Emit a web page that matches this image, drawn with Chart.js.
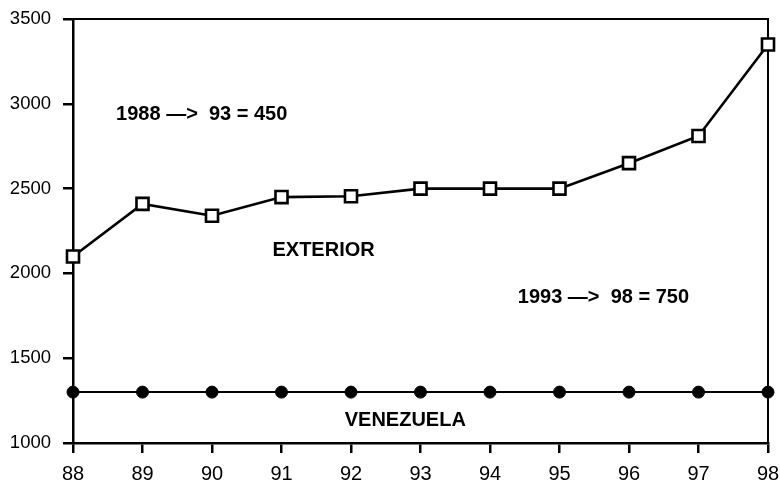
<!DOCTYPE html>
<html>
<head>
<meta charset="utf-8">
<script src="https://cdn.jsdelivr.net/npm/chart.js@4/dist/chart.umd.min.js"></script>
<style>
  html, body { margin: 0; padding: 0; background: #fff; }
  #wrap { width: 780px; height: 487px; position: relative; }
</style>
</head>
<body>
<div id="wrap"><canvas id="c"></canvas></div>
<script>
const years = [88, 89, 90, 91, 92, 93, 94, 95, 96, 97, 98];
const exterior = [2100, 2410, 2340, 2450, 2455, 2500, 2500, 2500, 2650, 2810, 3350];
const venezuela = [1300, 1300, 1300, 1300, 1300, 1300, 1300, 1300, 1300, 1300, 1300];
const yTickValues = [1000, 1500, 2000, 2500, 3000, 3500];
const notes = ['1988 —>  93 = 450', 'EXTERIOR', '1993 —>  98 = 750', 'VENEZUELA'];

const toXY = (vals) => years.map((y, i) => ({ x: y, y: vals[i] }));

const notePlugin = {
  id: 'notes',
  afterDatasetsDraw(chart) {
    const { ctx, scales: { x, y } } = chart;
    const spots = [[88.62, 2936], [90.87, 2136], [94.40, 1860], [91.91, 1133]];
    ctx.save();
    ctx.fillStyle = '#000';
    ctx.font = 'bold 20px "Liberation Sans", Arial, sans-serif';
    ctx.textAlign = 'left';
    ctx.textBaseline = 'middle';
    notes.forEach((t, i) => {
      ctx.fillText(t, x.getPixelForValue(spots[i][0]), y.getPixelForValue(spots[i][1]));
    });
    ctx.restore();
  }
};

const framePlugin = {
  id: 'frame',
  beforeDatasetsDraw(chart) {
    const { ctx, chartArea: a } = chart;
    ctx.save();
    ctx.strokeStyle = '#000';
    ctx.lineWidth = 2;
    ctx.beginPath();
    ctx.moveTo(a.left, a.top);
    ctx.lineTo(a.right, a.top);
    ctx.lineTo(a.right, a.bottom);
    ctx.stroke();
    ctx.restore();
  }
};

new Chart(document.getElementById('c'), {
  type: 'line',
  data: {
    datasets: [
      {
        label: 'EXTERIOR',
        data: toXY(exterior),
        borderColor: '#000',
        borderWidth: 2.6,
        pointStyle: 'rect',
        pointRadius: 8.5,
        pointBackgroundColor: '#fff',
        pointBorderColor: '#000',
        pointBorderWidth: 2.6,
        tension: 0,
        clip: false
      },
      {
        label: 'VENEZUELA',
        data: toXY(venezuela),
        borderColor: '#000',
        borderWidth: 2,
        pointStyle: 'circle',
        pointRadius: 6,
        pointBackgroundColor: '#000',
        pointBorderColor: '#000',
        pointBorderWidth: 1,
        tension: 0,
        clip: false
      }
    ]
  },
  options: {
    responsive: true,
    maintainAspectRatio: false,
    animation: false,
    layout: { padding: { top: 19, right: 12, left: 0, bottom: 0 } },
    plugins: { legend: { display: false }, tooltip: { enabled: false } },
    scales: {
      x: {
        type: 'linear',
        min: years[0],
        max: years[years.length - 1],
        afterBuildTicks(scale) { scale.ticks = years.map(v => ({ value: v })); },
        afterFit(scale) { scale.height = 44; scale.paddingRight = 0; scale.paddingLeft = 0; },
        border: { display: true, color: '#000', width: 2.5 },
        grid: { drawOnChartArea: false, drawTicks: true, tickLength: 10, color: '#000', lineWidth: 2.5 },
        ticks: {
          color: '#000',
          padding: 9,
          maxRotation: 0,
          font: { family: '"Liberation Sans", Arial, sans-serif', size: 20 },
          callback: (v) => String(v)
        }
      },
      y: {
        min: yTickValues[0],
        max: yTickValues[yTickValues.length - 1],
        afterBuildTicks(scale) { scale.ticks = yTickValues.map(v => ({ value: v })); },
        afterFit(scale) { scale.width = 73; scale.paddingTop = 0; scale.paddingBottom = 0; },
        border: { display: true, color: '#000', width: 2.5 },
        grid: { drawOnChartArea: false, drawTicks: true, tickLength: 10, color: '#000', lineWidth: 2.5 },
        ticks: {
          color: '#000',
          padding: 12,
          font: { family: '"Liberation Sans", Arial, sans-serif', size: 18.5 },
          callback: (v) => String(v)
        }
      }
    }
  },
  plugins: [framePlugin, notePlugin]
});
</script>
</body>
</html>
